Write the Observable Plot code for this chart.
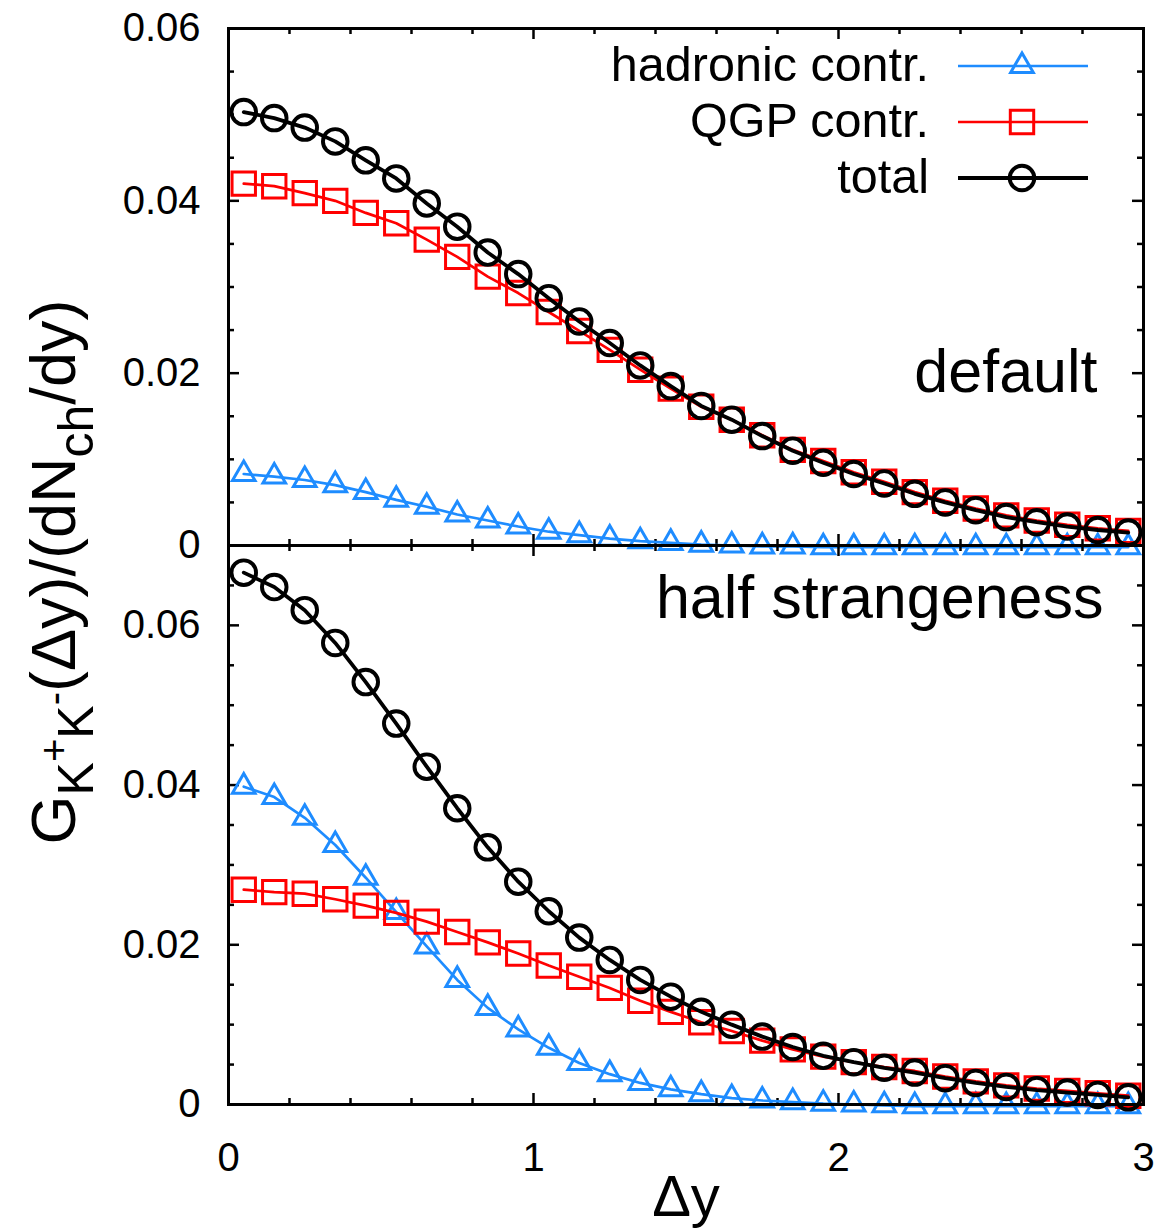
<!DOCTYPE html>
<html>
<head>
<meta charset="utf-8">
<script src="https://cdn.jsdelivr.net/npm/d3@7"></script>
<script src="https://cdn.jsdelivr.net/npm/@observablehq/plot@0.6"></script>
<style>
html, body { margin: 0; padding: 0; background: #fff; }
#wrap { position: relative; width: 1155px; height: 1231px; background: #fff;
  font-family: "Liberation Sans", Arial, Helvetica, sans-serif; }
#wrap > * { position: absolute; left: 0; }
</style>
</head>
<body>
<div id="wrap"></div>
<script>
// ---------------- data ----------------
const dy = [0.05, 0.15, 0.25, 0.35, 0.45, 0.55, 0.65, 0.75, 0.85, 0.95,
            1.05, 1.15, 1.25, 1.35, 1.45, 1.55, 1.65, 1.75, 1.85, 1.95,
            2.05, 2.15, 2.25, 2.35, 2.45, 2.55, 2.65, 2.75, 2.85, 2.95];

const seriesNames = ["hadronic contr.", "QGP contr.", "total"];

// panel "default"
const defaultHadronic = [0.0083, 0.0080, 0.0076, 0.0070, 0.0062, 0.0053, 0.0045, 0.0036, 0.0029, 0.0022,
                         0.0016, 0.0012, 0.0008, 0.0005, 0.0003, 0.0001, 0.0000, -0.0001, -0.0001, -0.0002,
                         -0.0002, -0.0002, -0.0002, -0.0002, -0.0002, -0.0002, -0.0002, -0.0002, -0.0002, -0.0002];
const defaultQGP = [0.0420, 0.0417, 0.0409, 0.0400, 0.0386, 0.0374, 0.0355, 0.0335, 0.0312, 0.0293,
                    0.0271, 0.0249, 0.0227, 0.0204, 0.0182, 0.0161, 0.0146, 0.0128, 0.0111, 0.0098,
                    0.0085, 0.0074, 0.0062, 0.0052, 0.0043, 0.0035, 0.0029, 0.0024, 0.0020, 0.0017];
const defaultTotal = [0.0503, 0.0496, 0.0485, 0.0469, 0.0447, 0.0426, 0.0397, 0.0370, 0.0340, 0.0315,
                      0.0287, 0.0260, 0.0235, 0.0209, 0.0185, 0.0162, 0.0146, 0.0127, 0.0110, 0.0096,
                      0.0083, 0.0072, 0.0060, 0.0050, 0.0041, 0.0033, 0.0027, 0.0022, 0.0018, 0.0015];

// panel "half strangeness"
const halfHadronic = [0.0398, 0.0385, 0.0359, 0.0325, 0.0284, 0.0241, 0.0198, 0.0156, 0.0121, 0.0094,
                      0.0071, 0.0052, 0.0038, 0.0027, 0.0019, 0.0013, 0.0008, 0.0005, 0.0003, 0.0001,
                      0.0000, -0.0001, -0.0002, -0.0002, -0.0002, -0.0002, -0.0002, -0.0002, -0.0002, -0.0002];
const halfQGP = [0.0269, 0.0266, 0.0264, 0.0257, 0.0249, 0.0240, 0.0229, 0.0216, 0.0203, 0.0189,
                 0.0174, 0.0160, 0.0146, 0.0130, 0.0116, 0.0103, 0.0092, 0.0080, 0.0069, 0.0060,
                 0.0053, 0.0047, 0.0042, 0.0035, 0.0029, 0.0024, 0.0020, 0.0017, 0.0014, 0.0011];
const halfTotal = [0.0666, 0.0648, 0.0619, 0.0578, 0.0529, 0.0477, 0.0423, 0.0371, 0.0322, 0.0279,
                   0.0242, 0.0209, 0.0181, 0.0156, 0.0135, 0.0116, 0.0100, 0.0085, 0.0072, 0.0061,
                   0.0053, 0.0046, 0.0040, 0.0033, 0.0027, 0.0022, 0.0018, 0.0015, 0.0012, 0.0009];

const panelLabels = ["default", "half strangeness"];
const xTickLabels = [0, 1, 2, 3];
const xMinorTicks = [0.2, 0.4, 0.6, 0.8, 1.2, 1.4, 1.6, 1.8, 2.2, 2.4, 2.6, 2.8];
const xMajorTicks = [1, 2];
const yTickLabels = [0, 0.02, 0.04, 0.06];
const yMinorTicksTop = [0.005, 0.01, 0.015, 0.025, 0.03, 0.035, 0.045, 0.05, 0.055];
const yMinorTicksBottom = [0.005, 0.01, 0.015, 0.025, 0.03, 0.035, 0.045, 0.05, 0.055, 0.065];
const xLabelText = "Δy";

// ---------------- style ----------------
const FONT = '"Liberation Sans", Arial, Helvetica, sans-serif';
const W = 1155, ML = 228, MR = 12;
const seriesStyle = {
  "hadronic contr.": {color: "#1e8cff", symbol: "triangle", r: 8.4, lw: 2.7, mw: 3.0},
  "QGP contr.":      {color: "#ff0000", symbol: "square",   r: 13.2, lw: 2.7, mw: 3.0},
  "total":           {color: "#000000", symbol: "circle",   r: 12.3, lw: 3.8, mw: 3.9}
};
const fmt = d => d === 0 ? "0" : d.toFixed(2);
const MAJ = 11, MIN = 6, TW = 2.5;

function panel({height, marginTop, marginBottom, yMax, yMinor, series, label, labelDx, labelDy, showX}) {
  const H = height - marginTop - marginBottom;
  const PW = W - ML - MR;
  const marks = [];
  marks.push(Plot.tickX(xMinorTicks, {x: d => d, insetTop: H - MIN, stroke: "black", strokeWidth: TW}));
  marks.push(Plot.tickX(xMinorTicks, {x: d => d, insetBottom: H - MIN, stroke: "black", strokeWidth: TW}));
  marks.push(Plot.tickX(xMajorTicks, {x: d => d, insetTop: H - MAJ, stroke: "black", strokeWidth: TW}));
  marks.push(Plot.tickX(xMajorTicks, {x: d => d, insetBottom: H - MAJ, stroke: "black", strokeWidth: TW}));
  const yMaj = yTickLabels.filter(v => v > 0 && v < yMax);
  marks.push(Plot.tickY(yMinor, {y: d => d, insetRight: PW - MIN, stroke: "black", strokeWidth: TW}));
  marks.push(Plot.tickY(yMinor, {y: d => d, insetLeft: PW - MIN, stroke: "black", strokeWidth: TW}));
  marks.push(Plot.tickY(yMaj, {y: d => d, insetRight: PW - MAJ, stroke: "black", strokeWidth: TW}));
  marks.push(Plot.tickY(yMaj, {y: d => d, insetLeft: PW - MAJ, stroke: "black", strokeWidth: TW}));
  series.forEach(([name, values]) => {
    const s = seriesStyle[name];
    const rows = dy.map((x, i) => ({x, y: values[i]}));
    marks.push(Plot.line(rows, {x: "x", y: "y", stroke: s.color, strokeWidth: s.lw}));
    marks.push(Plot.dot(rows, {x: "x", y: "y", symbol: s.symbol, r: s.r, stroke: s.color,
                               strokeWidth: s.mw, fill: "none"}));
  });
  marks.push(Plot.frame({stroke: "black", strokeWidth: 3}));
  marks.push(Plot.axisY(yTickLabels, {tickSize: 0, tickPadding: 28, tickFormat: fmt,
                                      fontSize: 40, label: null}));
  if (showX) {
    marks.push(Plot.axisX(xTickLabels, {tickSize: 0, tickPadding: 38, tickFormat: d => String(d),
                                        fontSize: 40, label: null}));
  }
  marks.push(Plot.text([label], {text: d => d, frameAnchor: "top-right", textAnchor: "end",
                                 dx: labelDx, dy: labelDy, fontSize: 61, fill: "black"}));
  return Plot.plot({
    width: W, height, marginLeft: ML, marginRight: MR, marginTop, marginBottom,
    x: showX ? {domain: [0, 3]} : {domain: [0, 3], axis: null},
    y: {domain: [0, yMax]},
    style: {fontFamily: FONT, background: "transparent", overflow: "visible", color: "black"},
    marks
  });
}

const wrap = document.getElementById("wrap");

const topPlot = panel({
  height: 560, marginTop: 28, marginBottom: 15, yMax: 0.06, yMinor: yMinorTicksTop,
  series: [[seriesNames[0], defaultHadronic], [seriesNames[1], defaultQGP], [seriesNames[2], defaultTotal]],
  label: panelLabels[0], labelDx: -46, labelDy: 320, showX: false
});
topPlot.style.top = "0px";
wrap.appendChild(topPlot);

const bottomPlot = panel({
  height: 701, marginTop: 15, marginBottom: 127, yMax: 0.07, yMinor: yMinorTicksBottom,
  series: [[seriesNames[0], halfHadronic], [seriesNames[1], halfQGP], [seriesNames[2], halfTotal]],
  label: panelLabels[1], labelDx: -40, labelDy: 29, showX: true
});
bottomPlot.style.top = "530px";
wrap.appendChild(bottomPlot);

// ---------------- overlay: legend and axis titles ----------------
const svg = d3.select(wrap).append("svg")
  .attr("width", 1155).attr("height", 1231)
  .style("top", "0px").style("pointer-events", "none")
  .style("font-family", FONT);

const symType = {triangle: d3.symbolTriangle, square: d3.symbolSquare, circle: d3.symbolCircle};
seriesNames.forEach((name, i) => {
  const s = seriesStyle[name];
  const yRow = 66 + i * 56;
  svg.append("text").attr("x", 929).attr("y", yRow + 15).attr("text-anchor", "end")
    .attr("font-size", 48.5).attr("fill", "black").text(name);
  svg.append("line").attr("x1", 958).attr("x2", 1088).attr("y1", yRow).attr("y2", yRow)
    .attr("stroke", s.color).attr("stroke-width", s.lw);
  svg.append("path").attr("transform", `translate(1022,${yRow})`)
    .attr("d", d3.symbol(symType[s.symbol], s.r * s.r * Math.PI)())
    .attr("fill", "none").attr("stroke", s.color).attr("stroke-width", s.mw);
});

const F = 63, S = 50, SS = 40;
const yl = svg.append("text").attr("transform", "translate(75,572) rotate(-90)")
  .attr("text-anchor", "middle").attr("font-size", F).attr("fill", "black");
yl.append("tspan").text("G");
yl.append("tspan").attr("font-size", S).attr("dy", 18).text("K");
yl.append("tspan").attr("font-size", SS).attr("dy", -25).text("+");
yl.append("tspan").attr("font-size", S).attr("dy", 25).text("K");
yl.append("tspan").attr("font-size", SS).attr("dy", -25).text("-");
yl.append("tspan").attr("font-size", F).attr("dy", 7).text("(Δy)/(dN");
yl.append("tspan").attr("font-size", S).attr("dy", 18).text("ch");
yl.append("tspan").attr("font-size", F).attr("dy", -18).text("/dy)");

svg.append("text").attr("x", 686).attr("y", 1216).attr("text-anchor", "middle")
  .attr("font-size", 58).attr("fill", "black").text(xLabelText);
</script>
</body>
</html>
